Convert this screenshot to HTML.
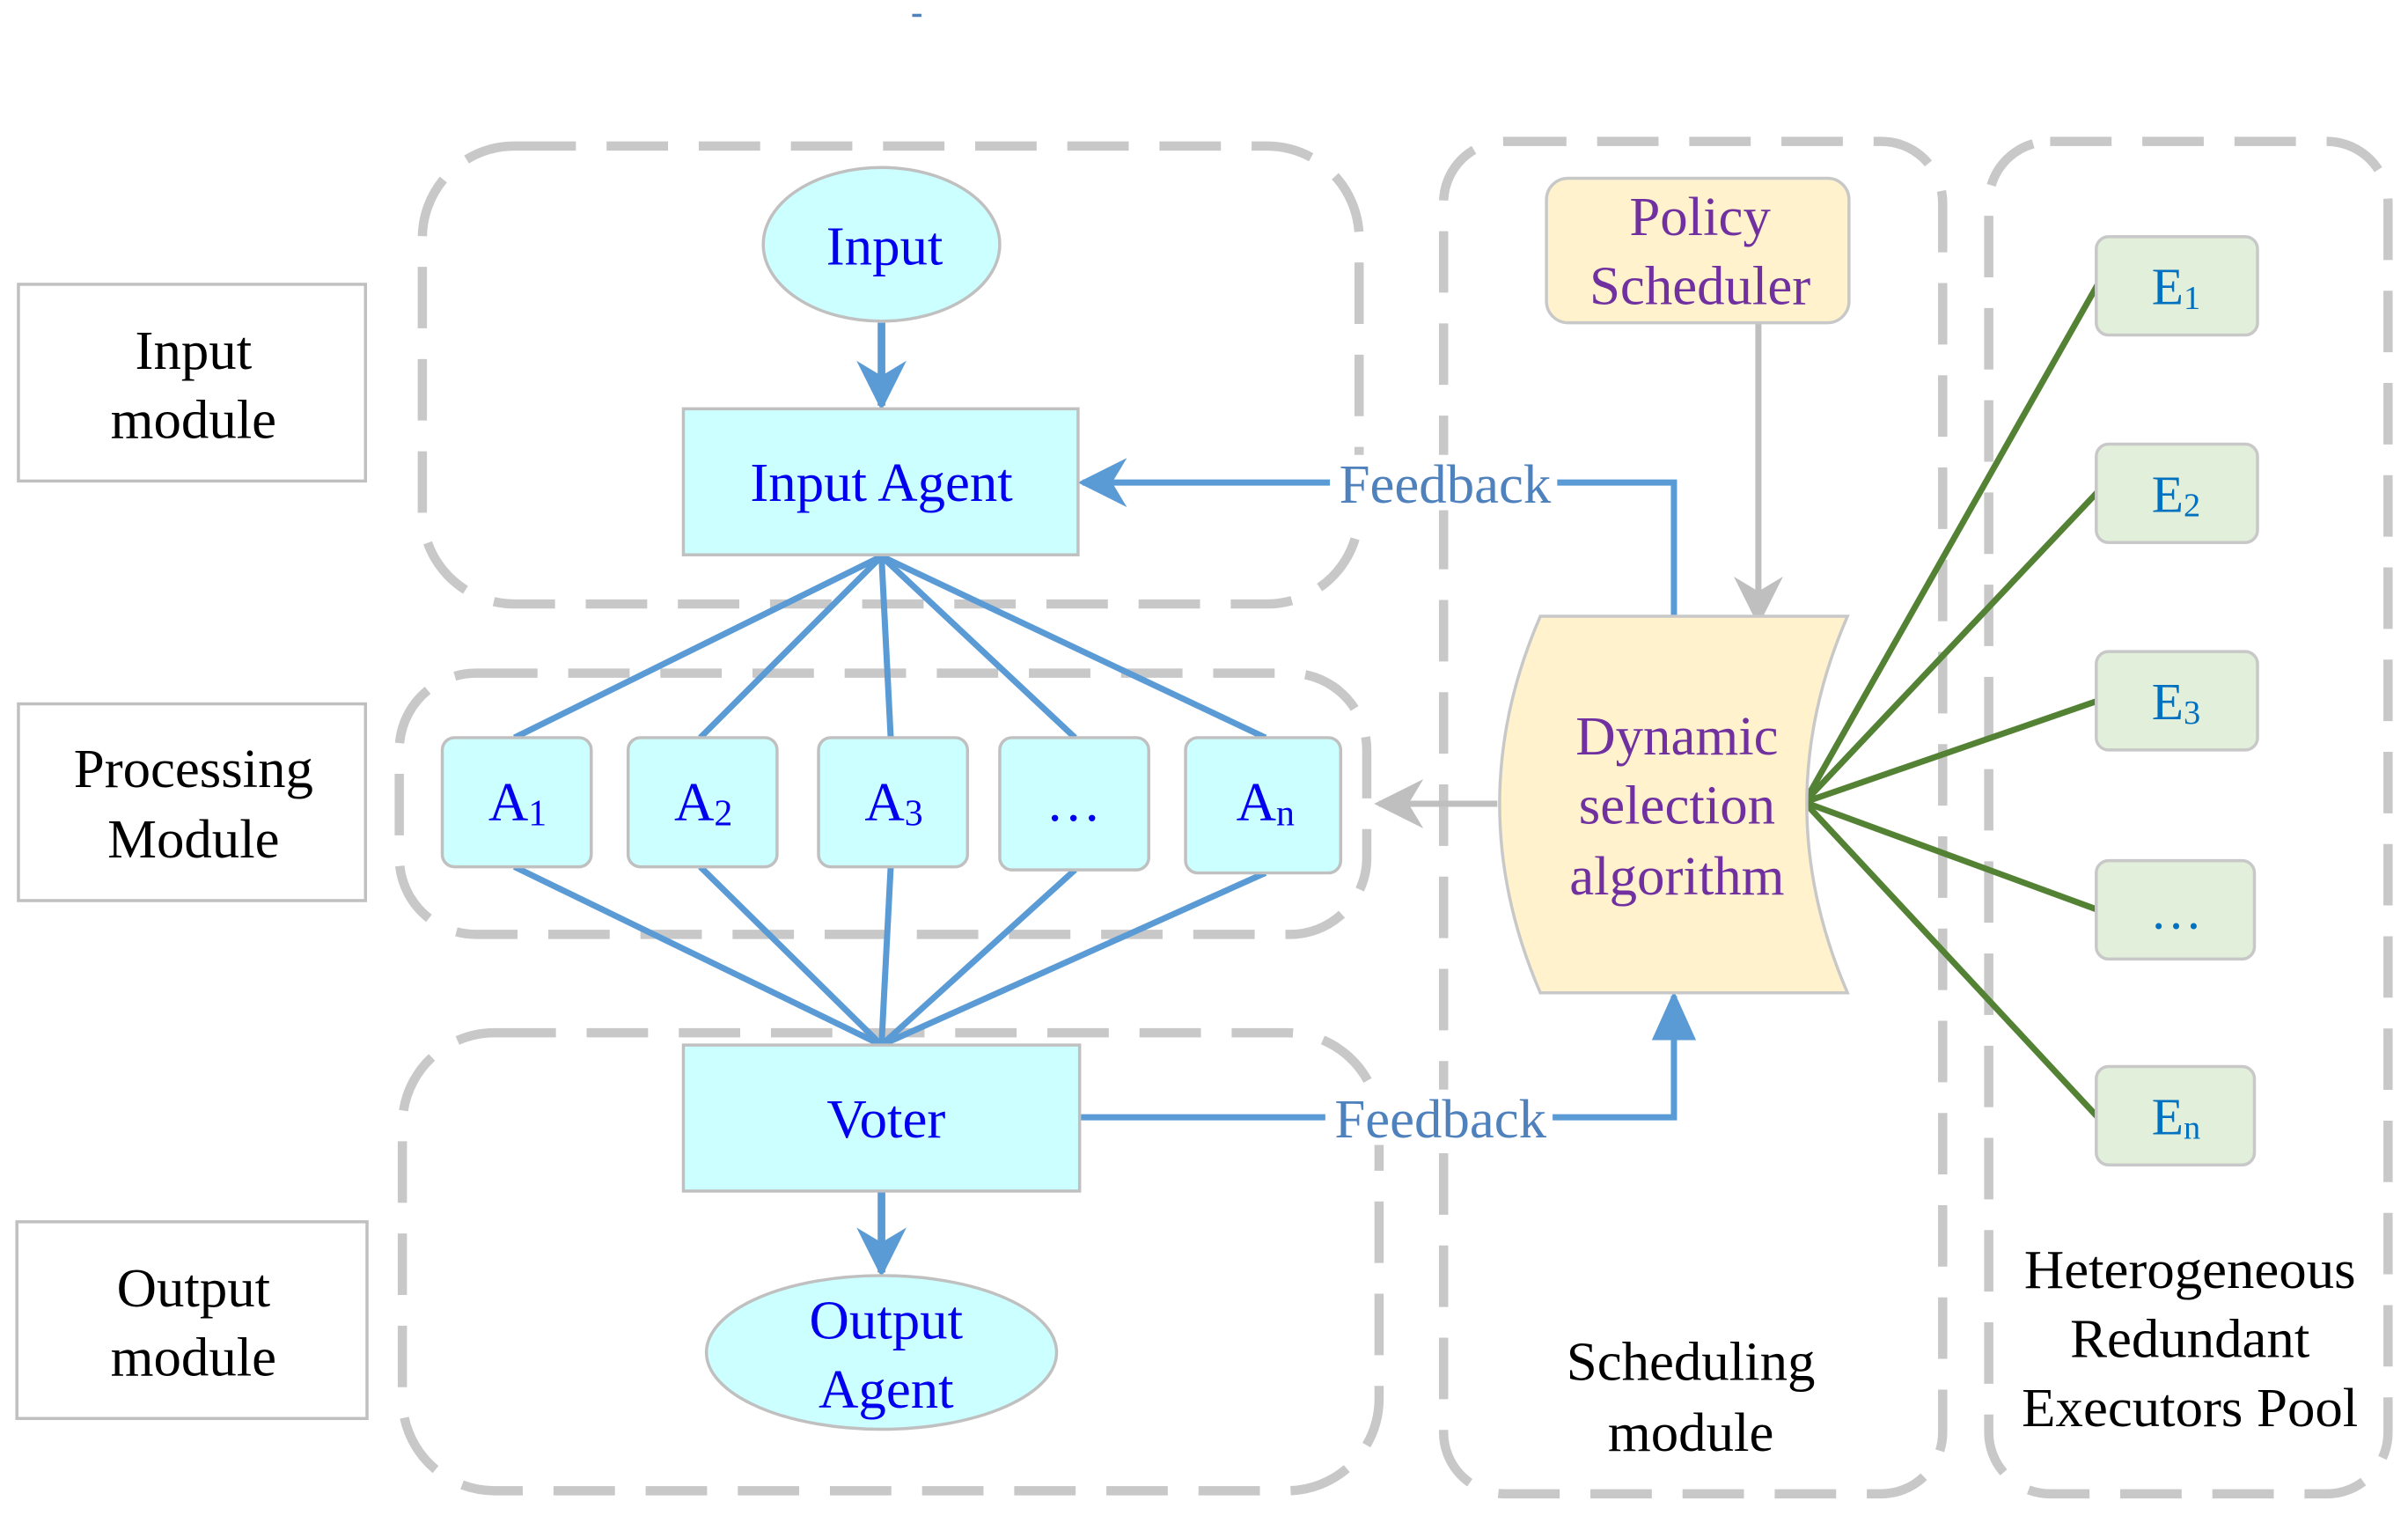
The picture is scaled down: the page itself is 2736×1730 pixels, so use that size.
<!DOCTYPE html>
<html><head><meta charset="utf-8"><style>
html,body{margin:0;padding:0;background:#fff;}
svg{display:block;}
text{font-family:"Liberation Serif",serif;}
</style></head><body>
<svg width="2736" height="1730" viewBox="0 0 1568 991" preserveAspectRatio="none" xmlns="http://www.w3.org/2000/svg">
<defs>
<marker id="ab" viewBox="0 0 10 10" refX="9" refY="5" markerWidth="6.5" markerHeight="6.5" orient="auto" markerUnits="strokeWidth"><path d="M0,0 L10,5 L0,10 L3,5 z" fill="#5b9bd5"/></marker>
<marker id="ab1" viewBox="0 0 10 10" refX="9" refY="5" markerWidth="8" markerHeight="8" orient="auto" markerUnits="strokeWidth"><path d="M0,0 L10,5 L0,10 L3,5 z" fill="#5b9bd5"/></marker>
<marker id="ag" viewBox="0 0 10 10" refX="9" refY="5" markerWidth="8" markerHeight="8" orient="auto" markerUnits="strokeWidth"><path d="M0,0 L10,5 L0,10 L3,5 z" fill="#bfbfbf"/></marker>
<marker id="ab2" viewBox="0 0 10 10" refX="9" refY="5" markerWidth="8" markerHeight="8" orient="auto" markerUnits="strokeWidth"><path d="M0,0.5 L10,5 L0,9.5 z" fill="#5b9bd5"/></marker>
</defs>
<rect x="594" y="9" width="6" height="2" fill="#4f81bd"/>
<g fill="#fff" stroke="#c0c0c0" stroke-width="2">
<rect x="12" y="185" width="226" height="128"/>
<rect x="12" y="458" width="226" height="128"/>
<rect x="11" y="795" width="228" height="128"/>
</g>
<g font-size="36" fill="#000" text-anchor="middle">
<text x="126" y="240">Input</text><text x="126" y="285">module</text>
<text x="126" y="512">Processing</text><text x="126" y="558">Module</text>
<text x="126" y="850">Output</text><text x="126" y="895">module</text>
<text x="1101" y="898">Scheduling</text><text x="1101" y="944">module</text>
<text x="1426" y="838">Heterogeneous</text><text x="1426" y="883">Redundant</text><text x="1426" y="928">Executors Pool</text>
</g>
<g fill="none" stroke="#c8c8c8" stroke-width="6" stroke-dasharray="40 20">
<rect x="275" y="95" width="610" height="298" rx="60"/>
<rect x="260" y="438" width="630" height="170" rx="50"/>
<rect x="262" y="672" width="636" height="298" rx="60"/>
<rect x="940" y="92" width="325" height="880" rx="40"/>
<rect x="1295" y="92" width="260" height="880" rx="40"/>
</g>
<g stroke="#5b9bd5" stroke-width="4" fill="none">
<line x1="574" y1="362" x2="335" y2="480"/><line x1="574" y1="362" x2="456" y2="480"/><line x1="574" y1="362" x2="580" y2="480"/><line x1="574" y1="362" x2="700" y2="480"/><line x1="574" y1="362" x2="824" y2="480"/>
<line x1="335" y1="564" x2="574" y2="680"/><line x1="456" y1="564" x2="574" y2="680"/><line x1="580" y1="564" x2="574" y2="680"/><line x1="700" y1="566" x2="574" y2="680"/><line x1="824" y1="568" x2="574" y2="680"/>
<line x1="574" y1="210" x2="574" y2="264" stroke-width="5" marker-end="url(#ab)"/>
<line x1="574" y1="775" x2="574" y2="828" stroke-width="5" marker-end="url(#ab)"/>
<polyline points="1090,403 1090,314 705,314" marker-end="url(#ab1)"/>
<polyline points="703,727 1090,727 1090,648" marker-end="url(#ab2)"/>
</g>
<g stroke="#bfbfbf" stroke-width="4">
<line x1="975" y1="523" x2="898" y2="523" marker-end="url(#ag)"/>
<line x1="1145" y1="210" x2="1145" y2="404" marker-end="url(#ag)"/>
</g>
<g stroke="#548235" stroke-width="4">
<line x1="1175" y1="522" x2="1366" y2="185"/><line x1="1175" y1="522" x2="1366" y2="320"/><line x1="1175" y1="522" x2="1366" y2="456"/><line x1="1175" y1="522" x2="1366" y2="592"/><line x1="1175" y1="522" x2="1366" y2="727"/>
</g>
<rect x="866" y="296" width="148" height="36" fill="#fff"/>
<rect x="863" y="709" width="148" height="36" fill="#fff"/>
<g font-size="36" fill="#4f81bd" text-anchor="middle">
<text x="941" y="327">Feedback</text><text x="938" y="740">Feedback</text>
</g>
<g fill="#ccffff" stroke="#c0c0c0" stroke-width="2">
<ellipse cx="574" cy="159" rx="77" ry="50"/>
<rect x="445" y="266" width="257" height="95"/>
<rect x="288" y="480" width="97" height="84" rx="8"/>
<rect x="409" y="480" width="97" height="84" rx="8"/>
<rect x="533" y="480" width="97" height="84" rx="8"/>
<rect x="651" y="480" width="97" height="86" rx="8"/>
<rect x="772" y="480" width="101" height="88" rx="8"/>
<rect x="445" y="680" width="258" height="95"/>
<ellipse cx="574" cy="880" rx="114" ry="50"/>
</g>
<g font-size="36" fill="#0000ee" text-anchor="middle">
<text x="576" y="172">Input</text>
<text x="574" y="326">Input Agent</text>
<text x="337" y="534">A<tspan font-size="24" dy="3">1</tspan></text>
<text x="458" y="534">A<tspan font-size="24" dy="3">2</tspan></text>
<text x="582" y="534">A<tspan font-size="24" dy="3">3</tspan></text>
<text x="699" y="534">…</text>
<text x="824" y="534">A<tspan font-size="24" dy="3">n</tspan></text>
<text x="577" y="740">Voter</text>
<text x="577" y="871">Output</text><text x="577" y="916">Agent</text>
</g>
<rect x="1007" y="116" width="197" height="94" rx="14" fill="#fff2cc" stroke="#c8c8c8" stroke-width="2"/>
<path d="M1003,401 L1203,401 Q1150,523 1203,646 L1003,646 Q950,523 1003,401 Z" fill="#fff2cc" stroke="#c8c8c8" stroke-width="2"/>
<g font-size="36" fill="#7030a0" text-anchor="middle">
<text x="1107" y="153">Policy</text><text x="1107" y="198">Scheduler</text>
<text x="1092" y="491">Dynamic</text><text x="1092" y="536">selection</text><text x="1092" y="582">algorithm</text>
</g>
<g fill="#e2efda" stroke="#c8c8c8" stroke-width="2">
<rect x="1365" y="154" width="105" height="64" rx="8"/>
<rect x="1365" y="289" width="105" height="64" rx="8"/>
<rect x="1365" y="424" width="105" height="64" rx="8"/>
<rect x="1365" y="560" width="103" height="64" rx="8"/>
<rect x="1365" y="694" width="103" height="64" rx="8"/>
</g>
<g font-size="34" fill="#0070c0" text-anchor="middle">
<text x="1417" y="198">E<tspan font-size="22" dy="3">1</tspan></text>
<text x="1417" y="333">E<tspan font-size="22" dy="3">2</tspan></text>
<text x="1417" y="468">E<tspan font-size="22" dy="3">3</tspan></text>
<text x="1417" y="604">…</text>
<text x="1417" y="738">E<tspan font-size="22" dy="3">n</tspan></text>
</g>
</svg>
</body></html>
